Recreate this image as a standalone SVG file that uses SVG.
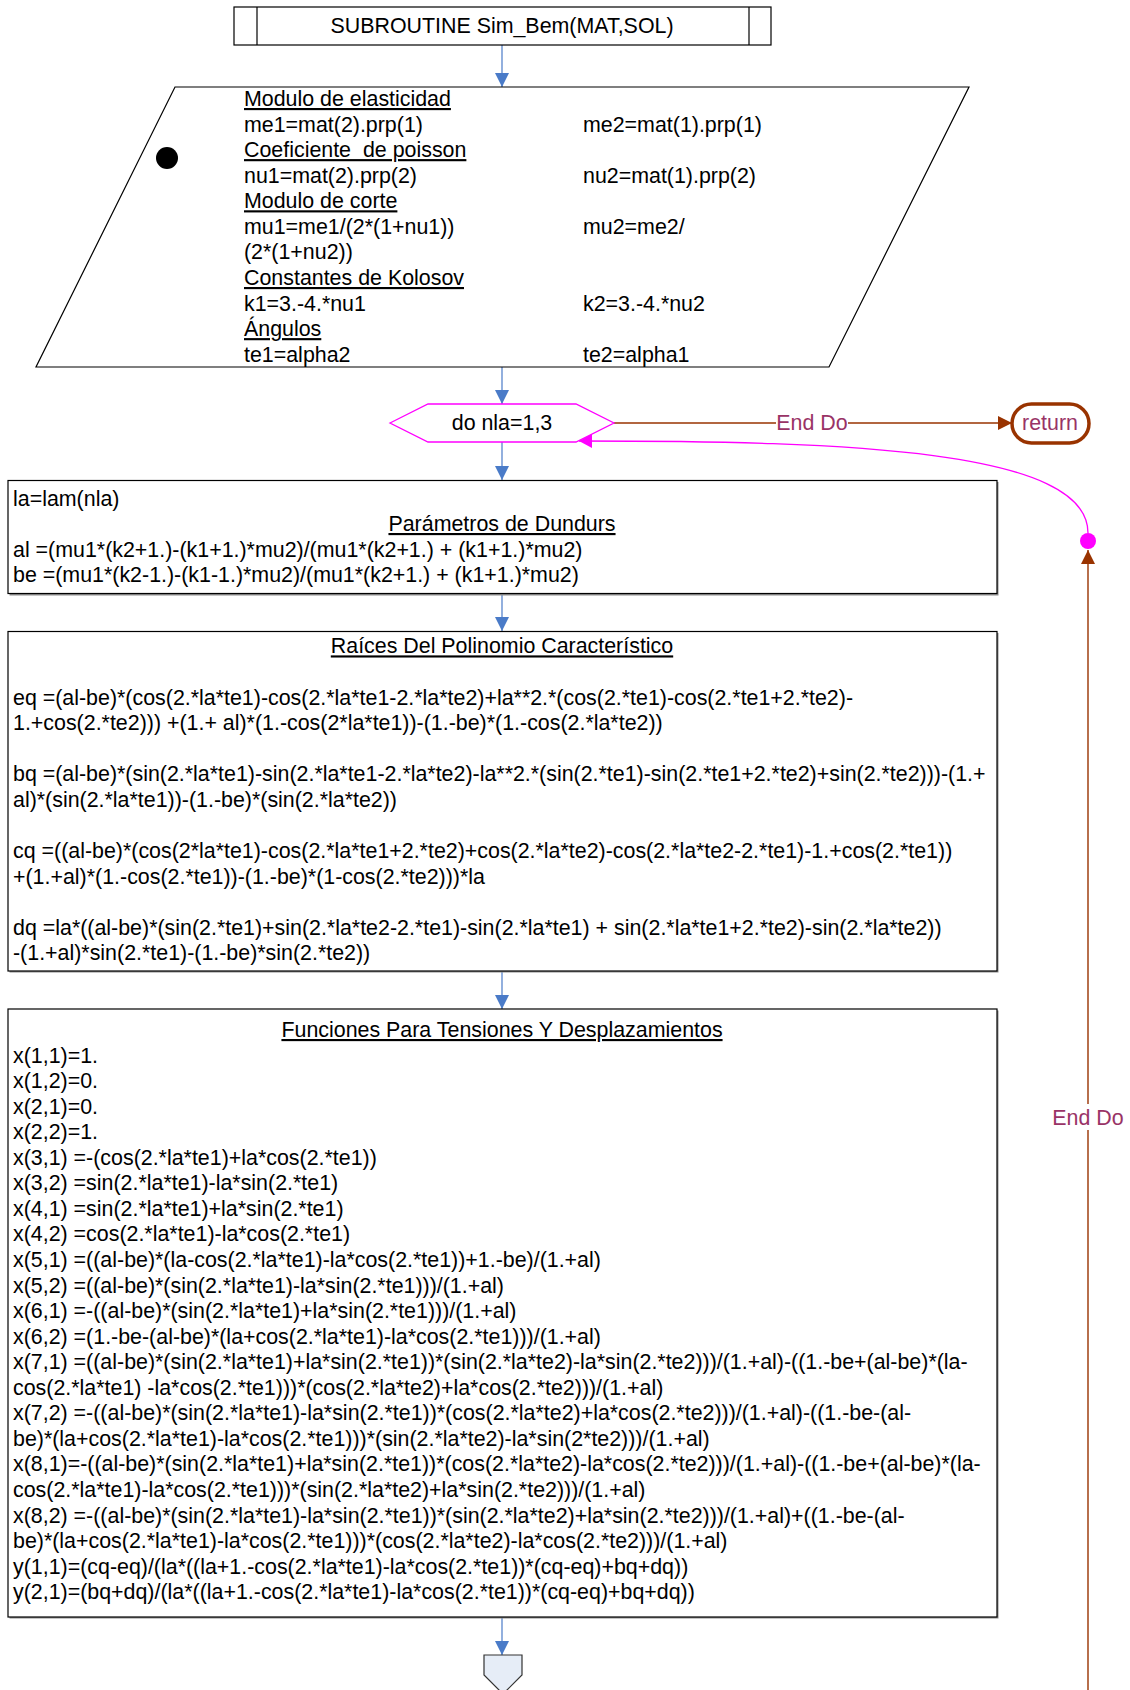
<svg xmlns="http://www.w3.org/2000/svg" width="1130" height="1690" viewBox="0 0 1130 1690">
<style>
text{font-family:"Liberation Sans",Arial,sans-serif;font-size:21.4px;fill:#000;white-space:pre}
.c{text-anchor:middle}
.u{text-decoration:underline}
.lbl{fill:#993366}
.box{fill:#fff;stroke:#000;stroke-width:1.2}
.shadow{fill:#8c8c8c;stroke:none}
.flow{stroke:#4a7bc8;stroke-width:1.2;fill:none}
.brown{stroke:#993300;stroke-width:1.4;fill:none}
.mag{stroke:#ff00ff;stroke-width:1.3;fill:none}
</style>
<defs>
<marker id="ab" markerUnits="userSpaceOnUse" markerWidth="14" markerHeight="14" refX="14" refY="7" orient="auto"><path d="M0,0 L14,7 L0,14 z" fill="#4a7bc8"/></marker>
<marker id="abr" markerUnits="userSpaceOnUse" markerWidth="14" markerHeight="14" refX="14" refY="7" orient="auto"><path d="M0,0 L14,7 L0,14 z" fill="#993300"/></marker>
<marker id="am" markerUnits="userSpaceOnUse" markerWidth="14" markerHeight="14" refX="13" refY="7" orient="auto"><path d="M0,0 L13,7 L0,14 z" fill="#ff00ff"/></marker>
</defs>

<g id="connectors">
<line class="flow" x1="502" y1="45" x2="502" y2="87" marker-end="url(#ab)"/>
<line class="flow" x1="502" y1="367" x2="502" y2="404" marker-end="url(#ab)"/>
<line class="flow" x1="502" y1="442" x2="502" y2="480" marker-end="url(#ab)"/>
<line class="flow" x1="502" y1="594" x2="502" y2="631" marker-end="url(#ab)"/>
<line class="flow" x1="502" y1="971" x2="502" y2="1009" marker-end="url(#ab)"/>
<line class="flow" x1="502" y1="1617" x2="502" y2="1655" marker-end="url(#ab)"/>
<line class="brown" x1="614" y1="423" x2="1012" y2="423" marker-end="url(#abr)"/>
<rect x="776" y="410" width="72" height="26" fill="#fff"/>
<text class="lbl c" x="812" y="430">End Do</text>
<line class="brown" x1="1088" y1="1700" x2="1088" y2="550" marker-end="url(#abr)"/>
<rect x="1052" y="1104" width="72" height="26" fill="#fff"/>
<text class="lbl c" x="1088" y="1125">End Do</text>
<path class="mag" d="M1088,533 C1088,450 850,441 579,441" marker-end="url(#am)"/>
<circle cx="1088" cy="541" r="8" fill="#ff00ff"/>
</g>

<g id="start">
<rect class="box" x="234" y="7" width="537" height="38"/>
<line x1="257" y1="7" x2="257" y2="45" stroke="#000" stroke-width="1.2"/>
<line x1="749" y1="7" x2="749" y2="45" stroke="#000" stroke-width="1.2"/>
<text class="c" x="502" y="33">SUBROUTINE Sim_Bem(MAT,SOL)</text>
</g>

<g id="input">
<polygon class="box" points="175,87 969,87 829,367 36,367"/>
<circle cx="167" cy="158" r="11" fill="#000"/>
<text class="u" x="244" y="106">Modulo de elasticidad</text>
<text x="244" y="131.6">me1=mat(2).prp(1)</text>
<text x="583" y="131.6">me2=mat(1).prp(1)</text>
<text class="u" x="244" y="157.1">Coeficiente  de poisson</text>
<text x="244" y="182.7">nu1=mat(2).prp(2)</text>
<text x="583" y="182.7">nu2=mat(1).prp(2)</text>
<text class="u" x="244" y="208.3">Modulo de corte</text>
<text x="244" y="233.9">mu1=me1/(2*(1+nu1))</text>
<text x="583" y="233.9">mu2=me2/</text>
<text x="244" y="259.4">(2*(1+nu2))</text>
<text class="u" x="244" y="285">Constantes de Kolosov</text>
<text x="244" y="310.6">k1=3.-4.*nu1</text>
<text x="583" y="310.6">k2=3.-4.*nu2</text>
<text class="u" x="244" y="336.1">Ángulos</text>
<text x="244" y="361.7">te1=alpha2</text>
<text x="583" y="361.7">te2=alpha1</text>
</g>

<g id="loop">
<polygon points="390,423 428,404 576,404 614,423 576,442 428,442" fill="#fff" stroke="#ff00ff" stroke-width="1.3"/>
<text class="c" x="502" y="430">do nla=1,3</text>
</g>

<g id="return">
<rect x="1012" y="404" width="77" height="39" rx="19.5" ry="19.5" fill="#fff" stroke="#993300" stroke-width="3.5"/>
<text class="lbl c" x="1050" y="430">return</text>
</g>

<g id="dundurs">
<rect class="shadow" x="9.5" y="482" width="989" height="113.5"/>
<rect class="box" x="8" y="480.5" width="989" height="113"/>
<text x="13" y="505.5">la=lam(nla)</text>
<text class="c u" x="502" y="531">Parámetros de Dundurs</text>
<text x="13" y="556.5">al =(mu1*(k2+1.)-(k1+1.)*mu2)/(mu1*(k2+1.) + (k1+1.)*mu2)</text>
<text x="13" y="582">be =(mu1*(k2-1.)-(k1-1.)*mu2)/(mu1*(k2+1.) + (k1+1.)*mu2)</text>
</g>

<g id="raices">
<rect class="shadow" x="9.5" y="633" width="989" height="339.5"/>
<rect class="box" x="8" y="631.5" width="989" height="339.5"/>
<text class="c u" x="502" y="653.4">Raíces Del Polinomio Característico</text>
<text x="13" y="704.5">eq =(al-be)*(cos(2.*la*te1)-cos(2.*la*te1-2.*la*te2)+la**2.*(cos(2.*te1)-cos(2.*te1+2.*te2)-</text>
<text x="13" y="730.1">1.+cos(2.*te2))) +(1.+ al)*(1.-cos(2*la*te1))-(1.-be)*(1.-cos(2.*la*te2))</text>
<text x="13" y="781.3">bq =(al-be)*(sin(2.*la*te1)-sin(2.*la*te1-2.*la*te2)-la**2.*(sin(2.*te1)-sin(2.*te1+2.*te2)+sin(2.*te2)))-(1.+</text>
<text x="13" y="806.9">al)*(sin(2.*la*te1))-(1.-be)*(sin(2.*la*te2))</text>
<text x="13" y="858">cq =((al-be)*(cos(2*la*te1)-cos(2.*la*te1+2.*te2)+cos(2.*la*te2)-cos(2.*la*te2-2.*te1)-1.+cos(2.*te1))</text>
<text x="13" y="883.6">+(1.+al)*(1.-cos(2.*te1))-(1.-be)*(1-cos(2.*te2)))*la</text>
<text x="13" y="934.7">dq =la*((al-be)*(sin(2.*te1)+sin(2.*la*te2-2.*te1)-sin(2.*la*te1) + sin(2.*la*te1+2.*te2)-sin(2.*la*te2))</text>
<text x="13" y="960.3">-(1.+al)*sin(2.*te1)-(1.-be)*sin(2.*te2))</text>
</g>

<g id="funciones">
<rect class="shadow" x="9.5" y="1010.5" width="989" height="608"/>
<rect class="box" x="8" y="1009" width="989" height="608"/>
<text class="c u" x="502" y="1037">Funciones Para Tensiones Y Desplazamientos</text>
<text x="13" y="1062.6">x(1,1)=1.</text>
<text x="13" y="1088.1">x(1,2)=0.</text>
<text x="13" y="1113.7">x(2,1)=0.</text>
<text x="13" y="1139.2">x(2,2)=1.</text>
<text x="13" y="1164.8">x(3,1) =-(cos(2.*la*te1)+la*cos(2.*te1))</text>
<text x="13" y="1190.3">x(3,2) =sin(2.*la*te1)-la*sin(2.*te1)</text>
<text x="13" y="1215.9">x(4,1) =sin(2.*la*te1)+la*sin(2.*te1)</text>
<text x="13" y="1241.4">x(4,2) =cos(2.*la*te1)-la*cos(2.*te1)</text>
<text x="13" y="1267">x(5,1) =((al-be)*(la-cos(2.*la*te1)-la*cos(2.*te1))+1.-be)/(1.+al)</text>
<text x="13" y="1292.5">x(5,2) =((al-be)*(sin(2.*la*te1)-la*sin(2.*te1)))/(1.+al)</text>
<text x="13" y="1318.1">x(6,1) =-((al-be)*(sin(2.*la*te1)+la*sin(2.*te1)))/(1.+al)</text>
<text x="13" y="1343.6">x(6,2) =(1.-be-(al-be)*(la+cos(2.*la*te1)-la*cos(2.*te1)))/(1.+al)</text>
<text x="13" y="1369.2">x(7,1) =((al-be)*(sin(2.*la*te1)+la*sin(2.*te1))*(sin(2.*la*te2)-la*sin(2.*te2)))/(1.+al)-((1.-be+(al-be)*(la-</text>
<text x="13" y="1394.7">cos(2.*la*te1) -la*cos(2.*te1)))*(cos(2.*la*te2)+la*cos(2.*te2)))/(1.+al)</text>
<text x="13" y="1420.3">x(7,2) =-((al-be)*(sin(2.*la*te1)-la*sin(2.*te1))*(cos(2.*la*te2)+la*cos(2.*te2)))/(1.+al)-((1.-be-(al-</text>
<text x="13" y="1445.8">be)*(la+cos(2.*la*te1)-la*cos(2.*te1)))*(sin(2.*la*te2)-la*sin(2*te2)))/(1.+al)</text>
<text x="13" y="1471.4">x(8,1)=-((al-be)*(sin(2.*la*te1)+la*sin(2.*te1))*(cos(2.*la*te2)-la*cos(2.*te2)))/(1.+al)-((1.-be+(al-be)*(la-</text>
<text x="13" y="1496.9">cos(2.*la*te1)-la*cos(2.*te1)))*(sin(2.*la*te2)+la*sin(2.*te2)))/(1.+al)</text>
<text x="13" y="1522.5">x(8,2) =-((al-be)*(sin(2.*la*te1)-la*sin(2.*te1))*(sin(2.*la*te2)+la*sin(2.*te2)))/(1.+al)+((1.-be-(al-</text>
<text x="13" y="1548">be)*(la+cos(2.*la*te1)-la*cos(2.*te1)))*(cos(2.*la*te2)-la*cos(2.*te2)))/(1.+al)</text>
<text x="13" y="1573.6">y(1,1)=(cq-eq)/(la*((la+1.-cos(2.*la*te1)-la*cos(2.*te1))*(cq-eq)+bq+dq))</text>
<text x="13" y="1599.1">y(2,1)=(bq+dq)/(la*((la+1.-cos(2.*la*te1)-la*cos(2.*te1))*(cq-eq)+bq+dq))</text>
</g>

<g id="offpage">
<polygon points="484,1655 522,1655 522,1675 503,1694 484,1675" fill="#e6edf7" stroke="#333" stroke-width="1.2"/>
</g>
</svg>
